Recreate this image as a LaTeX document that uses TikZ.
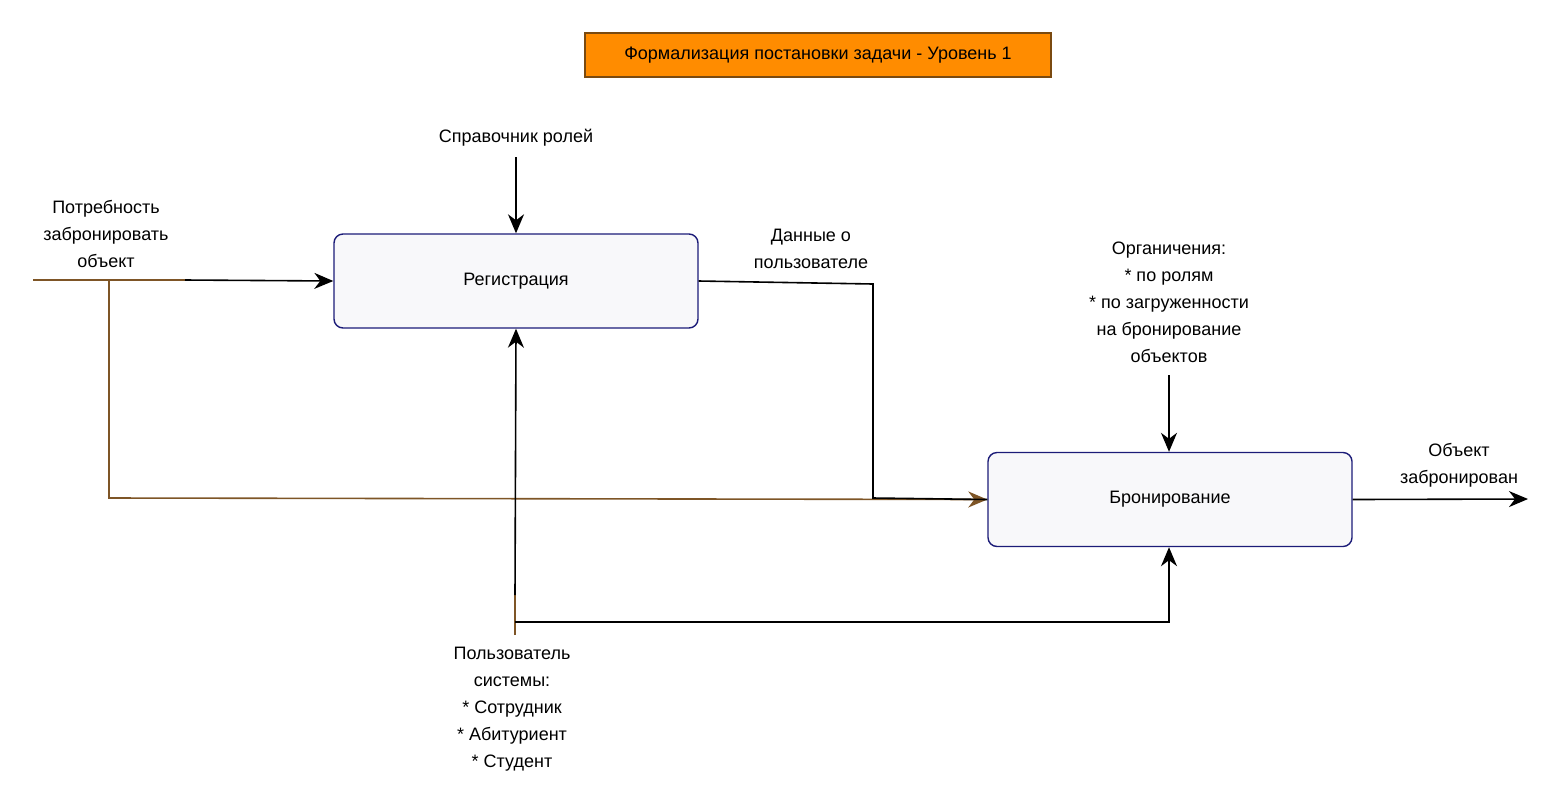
\documentclass[tikz,border=0pt]{standalone}
\usepackage{fontspec}
\setmainfont{Liberation Sans}
\usetikzlibrary{arrows.meta}
\definecolor{boxline}{HTML}{1C1C78}
\definecolor{boxfill}{HTML}{F8F8FA}
\definecolor{titlefill}{HTML}{FF8C00}
\definecolor{titleline}{HTML}{7A4A10}
\definecolor{flowbrown}{HTML}{7E5526}
\tikzset{
  func/.style={draw=boxline, fill=boxfill, line width=1.4pt, rounded corners=9pt,
    minimum width=364pt, minimum height=94pt, font=\fontsize{18}{27}\selectfont},
  titlebox/.style={draw=titleline, fill=titlefill, line width=1.2pt,
    minimum width=466pt, minimum height=44pt, font=\fontsize{18}{27}\selectfont},
  lbl/.style={align=center, font=\fontsize{18}{27}\selectfont, inner sep=0pt},
  flow/.style={line width=1.6pt, draw=black},
  bflow/.style={line width=1.6pt, draw=flowbrown},
  tip/.style={-{Stealth[length=19pt, width=16pt, inset=6pt]}}
}
\begin{document}
\begin{tikzpicture}[x=1pt, y=-1pt]
\useasboundingbox (0,0) rectangle (1562,807);

% title and function blocks
\node[titlebox] (title) at (818,55) {Формализация постановки задачи - Уровень 1};
\node[func] (reg) at (516,281) {Регистрация};
\node[func] (book) at (1170,499.5) {Бронирование};

% labels
\node[lbl] (ref) at (516,138) {Справочник ролей};
\node[lbl] (need) at (106,234) {Потребность\\забронировать\\объект};
\node[lbl] (udata) at (811,248.5) {Данные о\\пользователе};
\node[lbl] (limits) at (1169,302) {Органичения:\\* по ролям\\* по загруженности\\на бронирование\\объектов};
\node[lbl] (done) at (1459,465.5) {Объект\\забронирован};
\node[lbl] (users) at (512,709) {Пользователь\\системы:\\* Сотрудник\\* Абитуриент\\* Студент};

% connector points
\coordinate (inL) at (33,280);
\coordinate (inM) at (185,280);
\coordinate (split) at (109,280);
\coordinate (usrBot) at (515,635);
\coordinate (usrSplit) at (515,622);
\coordinate (outEnd) at (1528,499);

% control: role directory into registration
\draw[flow, tip] (ref.south |- 0,157) -- (reg.north);

% input: need to book an object
\draw[bflow] (inL) -- (inM);
\draw[flow, tip] (inM) -- (reg.west);
\draw[bflow, tip] (split) -- (109,498) -- (book.west);

% registration output: user data into booking
\draw[flow] (reg.east) -- (873,284) -- (873,498) -- (book.west);

% control: constraints into booking
\draw[flow, tip] (1169,375) -- (book.north -| 1169,0);

% output
\draw[flow, tip] (book.east) -- (outEnd);

% mechanism: system user
\draw[bflow] (usrBot) -- (515,595);
\draw[flow, tip] (515,595) -- (reg.south);
\draw[flow, tip] (usrSplit) -- (1169,622) -- (book.south -| 1169,0);
\end{tikzpicture}
\end{document}
